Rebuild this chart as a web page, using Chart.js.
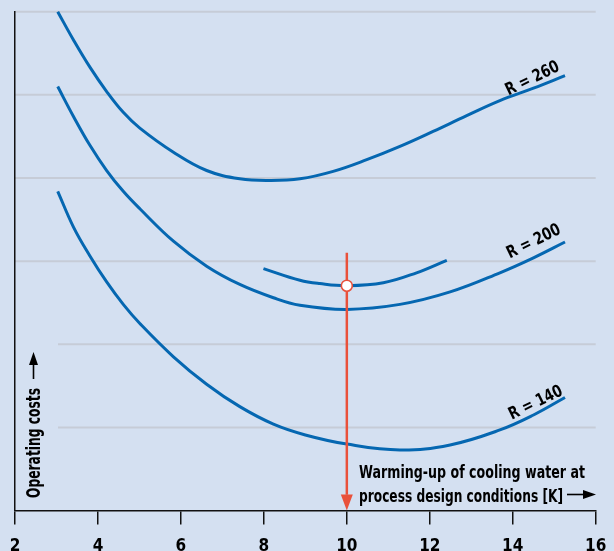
<!DOCTYPE html>
<html>
<head>
<meta charset="utf-8">
<script src="https://cdn.jsdelivr.net/npm/chart.js@4/dist/chart.umd.min.js"></script>
<style>
  html, body { margin: 0; padding: 0; background: #d4e0f1; overflow: hidden; }
  #wrap { width: 614px; height: 569px; position: relative; }
</style>
</head>
<body>
<div id="wrap"><canvas id="chart"></canvas></div>
<script>
// Operating costs vs. warming-up of cooling water.

const xTicks = [2, 4, 6, 8, 10, 12, 14, 16];
const gridValues = [1, 2, 3, 4, 5, 6];

const r260X = [3.03, 3.41, 3.81, 4.21, 4.61, 5.01, 5.82, 6.62, 7.42, 8.15, 8.87, 9.67, 10.48, 11.28, 12.08, 12.89, 13.69, 14.50, 15.26];
const r260Y = [6.00, 5.66, 5.33, 5.04, 4.79, 4.60, 4.31, 4.09, 3.99, 3.97, 3.99, 4.08, 4.22, 4.38, 4.56, 4.75, 4.93, 5.08, 5.23];

const r200X = [3.03, 3.41, 3.81, 4.21, 4.61, 5.01, 5.82, 6.62, 7.42, 8.23, 8.87, 10.0, 11.28, 12.49, 13.69, 14.50, 15.26];
const r200Y = [5.10, 4.74, 4.39, 4.09, 3.84, 3.63, 3.24, 2.94, 2.72, 2.56, 2.47, 2.42, 2.48, 2.63, 2.86, 3.04, 3.23];

const partX = [7.99, 8.87, 9.35, 10.0, 10.88, 11.68, 12.41];
const partY = [2.91, 2.77, 2.73, 2.705, 2.74, 2.86, 3.01];

const r140X = [3.03, 3.41, 3.81, 4.21, 4.61, 5.01, 5.82, 6.62, 7.42, 8.23, 9.0, 10.0, 11.28, 12.49, 13.69, 14.50, 15.26];
const r140Y = [3.84, 3.41, 3.06, 2.75, 2.48, 2.25, 1.85, 1.52, 1.25, 1.04, 0.91, 0.80, 0.73, 0.79, 0.97, 1.15, 1.36];

// design point and the red drop line
const designX = 10;
const designY = 2.705;
const dropTop = 3.10;
const dropBottom = 0.19;

const curveLabels = ['R = 260', 'R = 200', 'R = 140'];
const labelX = [14.46, 14.49, 14.54];
const labelY = [5.21, 3.25, 1.31];

const yTitle = 'Operating costs';
const xTitle = ['Warming-up of cooling water at', 'process design conditions [K]'];

const BG = '#d4e0f1';
const BLUE = '#0567b1';
const RED = '#e9513b';
const GRID = '#c6ccd7';
const FONT = "'Liberation Sans Narrow', 'DejaVu Sans Condensed', 'Roboto Condensed', sans-serif";

const pts = (xs, ys) => xs.map((x, i) => ({ x, y: ys[i] }));

function curve(xs, ys) {
  return {
    data: pts(xs, ys),
    borderColor: BLUE,
    borderWidth: 3,
    pointRadius: 0,
    tension: 0.4,
    clip: 6,
  };
}

// Text squeezed/stretched to a target width, so the layout holds whichever font is found.
function fitText(ctx, text, x, y, width, rotate) {
  ctx.save();
  ctx.translate(x, y);
  if (rotate) ctx.rotate(rotate);
  const w = ctx.measureText(text).width;
  const s = Math.max(0.6, Math.min(1.3, width / w));
  ctx.scale(s, 1);
  ctx.fillText(text, 0, 0);
  ctx.restore();
}

const decor = {
  id: 'decor',
  beforeDraw(chart) {
    const { ctx, width, height, chartArea, scales } = chart;
    ctx.save();
    ctx.fillStyle = BG;
    ctx.fillRect(0, 0, width, height);
    // horizontal grid lines; the two lowest stop short of the axis title
    ctx.strokeStyle = GRID;
    ctx.lineWidth = 2;
    for (const v of gridValues) {
      const y = scales.y.getPixelForValue(v);
      const x0 = v <= 2 ? 58 : chartArea.left;
      ctx.beginPath();
      ctx.moveTo(x0, y);
      ctx.lineTo(chartArea.right, y);
      ctx.stroke();
    }
    ctx.restore();
  },
  afterDatasetsDraw(chart) {
    const { ctx, scales } = chart;
    const { x: xs, y: ys } = scales;
    ctx.save();

    // arrowhead of the drop line
    const ax = xs.getPixelForValue(designX);
    const tip = ys.getPixelForValue(0);
    ctx.fillStyle = RED;
    ctx.beginPath();
    ctx.moveTo(ax - 6, tip - 16);
    ctx.lineTo(ax + 6, tip - 16);
    ctx.lineTo(ax, tip);
    ctx.closePath();
    ctx.fill();

    ctx.fillStyle = '#000';
    ctx.textBaseline = 'alphabetic';
    ctx.textAlign = 'left';

    // curve labels
    ctx.font = 'bold 17px ' + FONT;
    curveLabels.forEach((t, i) => {
      const cx = xs.getPixelForValue(labelX[i]);
      const cy = ys.getPixelForValue(labelY[i]);
      ctx.save();
      ctx.translate(cx, cy);
      ctx.rotate(-26 * Math.PI / 180);
      const w = ctx.measureText(t).width;
      const s = Math.max(0.6, Math.min(1.3, 58 / w));
      ctx.scale(s, 1);
      ctx.fillText(t, -w / 2, 6);
      ctx.restore();
    });

    // x-axis title
    ctx.font = 'bold 18px ' + FONT;
    fitText(ctx, xTitle[0], 359, 478, 226);
    fitText(ctx, xTitle[1], 359, 501.5, 204);
    ctx.strokeStyle = '#000';
    ctx.lineWidth = 1.6;
    ctx.beginPath();
    ctx.moveTo(567, 494.5);
    ctx.lineTo(584, 494.5);
    ctx.stroke();
    ctx.beginPath();
    ctx.moveTo(583, 490);
    ctx.lineTo(596, 494.5);
    ctx.lineTo(583, 499);
    ctx.closePath();
    ctx.fill();

    // y-axis title
    ctx.font = 'bold 19px ' + FONT;
    fitText(ctx, yTitle, 40, 498, 110, -Math.PI / 2);
    ctx.beginPath();
    ctx.moveTo(33.5, 379);
    ctx.lineTo(33.5, 364);
    ctx.stroke();
    ctx.beginPath();
    ctx.moveTo(29, 365);
    ctx.lineTo(33.5, 352);
    ctx.lineTo(38, 365);
    ctx.closePath();
    ctx.fill();

    ctx.restore();
  },
};

new Chart(document.getElementById('chart'), {
  type: 'line',
  data: {
    datasets: [
      {
        data: [{ x: designX, y: designY }],
        showLine: false,
        pointRadius: 5.5,
        pointBorderWidth: 1.6,
        pointBackgroundColor: '#fff',
        pointBorderColor: RED,
      },
      {
        data: [{ x: designX, y: dropTop }, { x: designX, y: dropBottom }],
        borderColor: RED,
        borderWidth: 2.5,
        pointRadius: 0,
      },
      curve(partX, partY),
      curve(r260X, r260Y),
      curve(r200X, r200Y),
      curve(r140X, r140Y),
    ],
  },
  options: {
    responsive: true,
    maintainAspectRatio: false,
    animation: false,
    events: [],
    layout: { padding: { left: 15, right: 18.3, top: 11.7, bottom: 0 } },
    plugins: { legend: { display: false }, tooltip: { enabled: false } },
    scales: {
      x: {
        type: 'linear',
        min: 2,
        max: 16,
        afterBuildTicks: s => { s.ticks = xTicks.map(v => ({ value: v })); },
        // tick padding would otherwise widen the side margins
        afterFit: s => { s.paddingLeft = 0; s.paddingRight = 0; },
        ticks: {
          color: '#000',
          padding: 12,
          font: { family: FONT, size: 17, weight: 'bold' },
        },
        grid: { drawOnChartArea: false, drawTicks: true, tickLength: 14, tickColor: '#111', lineWidth: 1.5 },
        border: { display: true, color: '#111', width: 1.5 },
      },
      y: {
        type: 'linear',
        min: 0,
        max: 6,
        ticks: { display: false },
        grid: { display: false, drawTicks: false },
        border: { display: true, color: '#111', width: 1.5 },
      },
    },
  },
  plugins: [decor],
});
</script>
</body>
</html>
